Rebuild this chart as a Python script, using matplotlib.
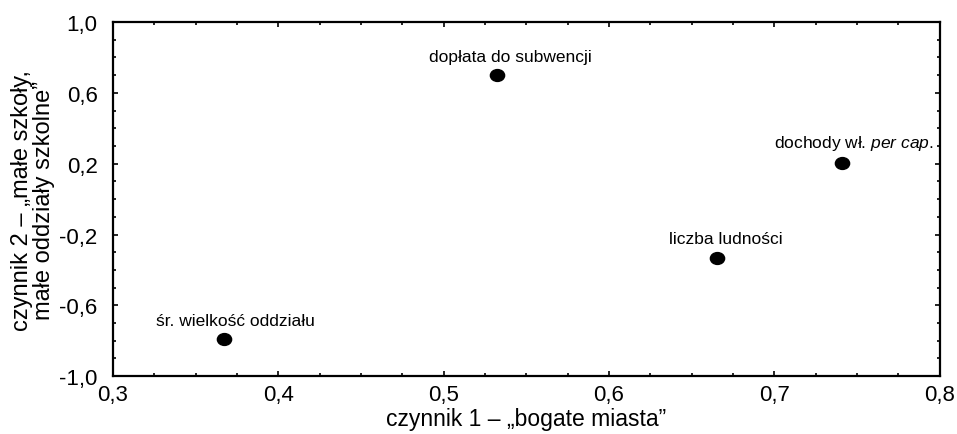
import matplotlib
matplotlib.use("Agg")
import matplotlib.pyplot as plt
from matplotlib.ticker import MultipleLocator, FixedLocator, FuncFormatter
from matplotlib.path import Path
from matplotlib.transforms import Affine2D

plt.rcParams['font.family'] = ['Liberation Sans', 'DejaVu Sans']
plt.rcParams['mathtext.fontset'] = 'custom'
plt.rcParams['mathtext.rm'] = 'Liberation Sans'
plt.rcParams['mathtext.it'] = 'Liberation Sans:italic'

labels = ["dopłata do subwencji", r"dochody wł. $\mathit{per\ cap.}$", "liczba ludności", "śr. wielkość oddziału"]
x_vals = [0.532, 0.741, 0.665, 0.367]
y_vals = [0.700, 0.205, -0.330, -0.790]
label_dx = [14, 12, 9, 12]  # px offsets
x_ticks = [0.3, 0.4, 0.5, 0.6, 0.7, 0.8]
y_ticks = [-1.0, -0.6, -0.2, 0.2, 0.6, 1.0]

fig = plt.figure(figsize=(9.57, 4.35), dpi=100)
ax = fig.add_axes([0.118, 0.133, 0.864, 0.814])

ellipse = Path(Affine2D().scale(1.2, 1.0).transform(Path.unit_circle().vertices),
               Path.unit_circle().codes)
ax.scatter(x_vals, y_vals, s=105, color='black', marker=ellipse, zorder=3)
for lab, x, y, dx in zip(labels, x_vals, y_vals, label_dx):
    ax.annotate(lab, (x, y), xytext=(dx * 0.72, 8), textcoords='offset points',
                ha='center', va='bottom', fontsize=12.5)

ax.set_xlim(0.3, 0.8)
ax.set_ylim(-1.0, 1.0)
ax.xaxis.set_major_locator(FixedLocator(x_ticks))
ax.xaxis.set_minor_locator(MultipleLocator(0.025))
ax.yaxis.set_major_locator(FixedLocator(y_ticks))
ax.yaxis.set_minor_locator(MultipleLocator(0.1))
fmt = FuncFormatter(lambda v, p: f"{v:.1f}".replace('.', ','))
ax.xaxis.set_major_formatter(fmt)
ax.yaxis.set_major_formatter(fmt)
ax.tick_params(which='both', direction='in', top=True, right=True, labelsize=16, width=1.2)
ax.tick_params(axis='x', which='major', length=3.5, pad=6)
ax.tick_params(axis='y', which='major', length=3.5, pad=11)
ax.tick_params(which='minor', length=2.2)
for s in ax.spines.values():
    s.set_linewidth(1.6)

ax.set_xlabel("czynnik 1 – „bogate miasta”", fontsize=16.5, labelpad=1)
ax.set_ylabel("czynnik 2 – „małe szkoły,\nmałe oddziały szkolne”", fontsize=17, linespacing=1.0, labelpad=3)

fig.savefig("out.png", dpi=100)
